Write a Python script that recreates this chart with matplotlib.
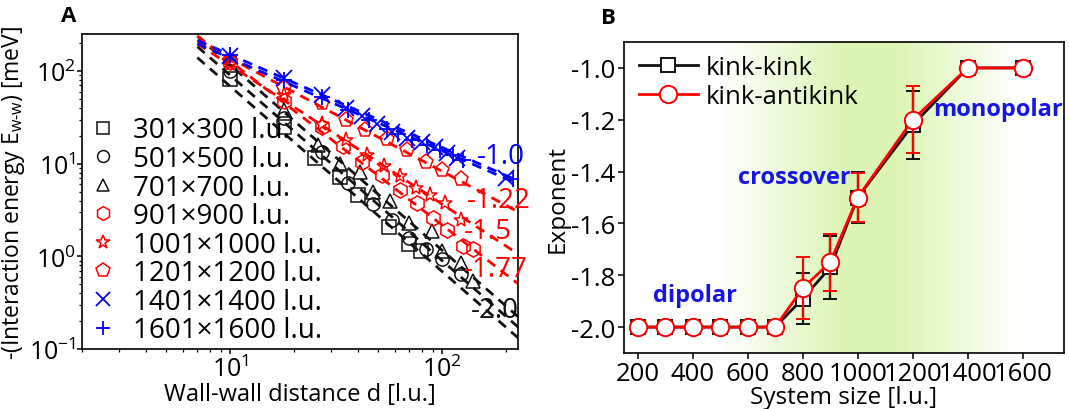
import numpy as np
import matplotlib
matplotlib.use("Agg")
import matplotlib.pyplot as plt
from matplotlib.colors import LinearSegmentedColormap
from matplotlib.lines import Line2D
from matplotlib.ticker import LogLocator, NullFormatter, MultipleLocator

plt.rcParams["font.family"] = ["Open Sans", "DejaVu Sans"]
plt.rcParams["mathtext.fontset"] = "custom"
plt.rcParams["mathtext.rm"] = "Open Sans"
plt.rcParams["mathtext.it"] = "Open Sans:italic"
plt.rcParams["axes.unicode_minus"] = False

BLACK = "#111111"
RED = "#ff0000"
BLUE = "#0000ff"
LABEL_BLUE = "#1515e8"

# ---------------- Panel A data ----------------
d_301 = [10, 18, 25, 33, 40, 56, 70, 79]
E_301 = [82, 25, 11.5, 7.2, 4.6, 2.1, 1.35, 1.15]

d_501 = [10, 18, 27, 36, 47, 58, 70, 84, 100, 122]
E_501 = [100, 31, 13.5, 6.2, 3.7, 2.5, 1.6, 1.2, 0.95, 0.65]

d_701 = [18, 26, 33, 41, 47, 57, 70, 89, 100, 122, 140]
E_701 = [38, 16, 10, 8.1, 5.0, 4.0, 2.3, 1.9, 1.15, 0.85, 0.55]

d_901 = [10, 18, 27, 34, 42, 52, 63, 76, 90, 105, 125, 140]
E_901 = [125, 48, 25, 15.5, 10.5, 7.5, 5.2, 3.8, 2.6, 1.95, 1.3, 1.2]

d_1001 = [10, 18, 27, 35, 44, 53, 63, 75, 88, 103, 122]
E_1001 = [120, 55, 27, 18, 12.5, 9.5, 7.3, 5.5, 4.6, 3.8, 2.5]

d_1201 = [10, 18, 27, 35, 43, 55, 68, 84, 100, 122]
E_1201 = [130, 65, 45, 30, 23, 18.4, 14, 10.4, 8.5, 6.8]

d_1401 = [10, 18, 27, 35, 42, 49, 58, 68, 80, 92, 105, 118, 200]
E_1401 = [145, 85, 55, 40, 33, 27, 22, 19, 17, 15, 13, 11.5, 7.0]

d_1601 = [10, 18, 27, 36, 45, 55, 62, 72, 85, 98, 112, 125, 215]
E_1601 = [150, 80, 52, 38, 30, 24, 21, 18, 16, 14, 12.5, 11, 6.8]

labels_A = ["301×300 l.u.", "501×500 l.u.", "701×700 l.u.", "901×900 l.u.",
            "1001×1000 l.u.", "1201×1200 l.u.", "1401×1400 l.u.", "1601×1600 l.u."]

# fitted power laws, given by their end points
fit_d = [7, 230]
fit_E = {
    "black1": [140, 0.13],
    "black2": [184, 0.17],
    "black3": [238, 0.22],
    "red177": [240, 0.50],
    "red150": [198, 1.05],
    "red122": [213, 3.0],
    "blue1": [197, 6.0],
    "blue2": [215, 6.5],
}
fit_labels = ["-1.0", "-1.22", "-1.5", "-1.77", "-2.0"]
fit_label_d = [146, 130, 127, 127, 136]
fit_label_E = [12.0, 4.1, 1.87, 0.73, 0.266]

# ---------------- Panel B data ----------------
size = [200, 300, 400, 500, 600, 700, 800, 900, 1000, 1200, 1400, 1600]
kk = [-2.0, -2.0, -2.0, -2.0, -2.0, -2.0, -1.89, -1.77, -1.5, -1.22, -1.0, -1.0]
kk_err = [0, 0, 0, 0.01, 0, 0, 0.1, 0.12, 0.1, 0.13, 0, 0]
ka = [-2.0, -2.0, -2.0, -2.0, -2.0, -2.0, -1.85, -1.75, -1.5, -1.2, -1.0, -1.0]
ka_err = [0, 0, 0, 0, 0, 0, 0.12, 0.11, 0.095, 0.13, 0, 0]


def panel_a(ax):
    series = [
        (d_301, E_301, "s", BLACK),
        (d_501, E_501, "o", BLACK),
        (d_701, E_701, "^", BLACK),
        (d_901, E_901, "h", RED),
        (d_1001, E_1001, "*", RED),
        (d_1201, E_1201, "p", RED),
        (d_1401, E_1401, "x", BLUE),
        (d_1601, E_1601, "+", BLUE),
    ]
    fit_colors = {"black": BLACK, "red": RED, "blue": BLUE}
    for key, ends in fit_E.items():
        col = fit_colors[key.rstrip("0123456789")]
        ax.plot(fit_d, ends, ls=(0, (3.5, 2.5)), lw=2.0, color=col, zorder=2)

    handles = []
    for (d, E, m, c), lab in zip(series, labels_A):
        ms = 11 if m in ("*", "h", "p") else 9.5
        if m in ("x", "+"):
            ms = 11
            h, = ax.plot(d, E, m, ms=ms, mew=1.3, color=c, ls="none",
                         label=lab, zorder=3)
        else:
            h, = ax.plot(d, E, m, ms=ms, mew=1.1, mfc="none", mec=c,
                         ls="none", label=lab, zorder=3)
        handles.append(h)

    label_colors = [BLUE, RED, RED, RED, BLACK]
    for t, x, y, c in zip(fit_labels, fit_label_d, fit_label_E, label_colors):
        ax.text(x, y, t, color=c, fontsize=20, ha="left", va="center",
                zorder=5)

    ax.set_xscale("log")
    ax.set_yscale("log")
    ax.set_xlim(2.0, 228)
    ax.set_ylim(0.1, 250)
    ax.xaxis.set_minor_locator(LogLocator(subs=np.arange(2, 10) * 1.0))
    ax.yaxis.set_minor_locator(LogLocator(subs=np.arange(2, 10) * 1.0))
    ax.xaxis.set_minor_formatter(NullFormatter())
    ax.yaxis.set_minor_formatter(NullFormatter())
    ax.tick_params(which="major", length=3.5, width=1.1, labelsize=18, pad=1)
    ax.tick_params(which="minor", length=2.5, width=0.9)
    for s in ax.spines.values():
        s.set_linewidth(1.2)

    ax.set_xlabel("Wall-wall distance d [l.u.]", fontsize=17, labelpad=0)
    ax.set_ylabel(r"-(Interaction energy E$_\mathregular{w\text{-}w}$) [meV]",
                  fontsize=16.5, labelpad=1)

    leg = ax.legend(handles=handles, loc="lower left", frameon=False,
                    fontsize=20, handlelength=0.9, handletextpad=0.6,
                    labelspacing=0.02, borderaxespad=0.0,
                    bbox_to_anchor=(-0.005, -0.02), markerscale=0.9)
    leg.set_zorder(6)
    ax.text(-0.03, 1.06, "A", transform=ax.transAxes, fontsize=16,
            weight="bold", ha="center", va="center")


def panel_b(ax):
    # green "crossover" background band
    cmap = LinearSegmentedColormap.from_list(
        "band", [(0.0, "#ffffff"), (0.22, "#ffffff"), (0.5, "#dcf5b5"),
                 (0.62, "#dcf5b5"), (0.9, "#ffffff"), (1.0, "#ffffff")])
    grad = np.linspace(0, 1, 400).reshape(1, -1)
    ax.imshow(grad, extent=(150, 1750, -2.1, -0.9), aspect="auto",
              cmap=cmap, zorder=0, interpolation="bilinear")

    ax.errorbar(size, kk, yerr=kk_err, color=BLACK, lw=2.0, marker="s",
                ms=10, mfc="white", mec=BLACK, mew=1.4, capsize=5,
                elinewidth=1.6, capthick=1.6, zorder=3)
    ax.errorbar(size, ka, yerr=ka_err, color=RED, lw=2.0, marker="o",
                ms=12.5, mfc="white", mec=RED, mew=1.4, capsize=5,
                elinewidth=1.6, capthick=1.6, zorder=4)

    ax.set_xlim(150, 1750)
    ax.set_ylim(-2.1, -0.9)
    ax.set_xticks([200, 400, 600, 800, 1000, 1200, 1400, 1600])
    ax.yaxis.set_major_locator(MultipleLocator(0.2))
    ax.yaxis.set_major_formatter(plt.FuncFormatter(lambda v, p: f"{v:.1f}"))
    ax.tick_params(length=4, width=1.1, labelsize=18.5, pad=2)
    for s in ax.spines.values():
        s.set_linewidth(1.2)

    ax.set_xlabel("System size [l.u.]", fontsize=17.5, labelpad=-1)
    ax.set_ylabel("Exponent", fontsize=17.5, labelpad=1)

    handles = [
        Line2D([], [], color=BLACK, lw=2.0, marker="s", ms=10, mfc="white",
               mec=BLACK, mew=1.4),
        Line2D([], [], color=RED, lw=2.0, marker="o", ms=12.5, mfc="white",
               mec=RED, mew=1.4),
    ]
    ax.legend(handles, ["kink-kink", "kink-antikink"], loc="upper left",
              frameon=False, fontsize=18.5, handlelength=2.3,
              handletextpad=0.3, labelspacing=0.15, borderaxespad=0.0,
              bbox_to_anchor=(0.01, 0.99))

    for t, x, y in [("dipolar", 407, -1.877), ("crossover", 771, -1.42),
                    ("monopolar", 1509, -1.16)]:
        ax.text(x, y, t, color=LABEL_BLUE, fontsize=17, weight="bold",
                ha="center", va="center", zorder=5)
    ax.text(-0.035, 1.08, "B", transform=ax.transAxes, fontsize=16,
            weight="bold", ha="center", va="center")


def main():
    fig = plt.figure(figsize=(10.69, 4.10), dpi=100)
    fig.patch.set_facecolor("white")
    ax_a = fig.add_axes([0.0767, 0.146, 0.408, 0.768])
    ax_b = fig.add_axes([0.5837, 0.1366, 0.4116, 0.7585])
    panel_a(ax_a)
    panel_b(ax_b)
    fig.savefig("out.png", dpi=100)


if __name__ == "__main__":
    main()
